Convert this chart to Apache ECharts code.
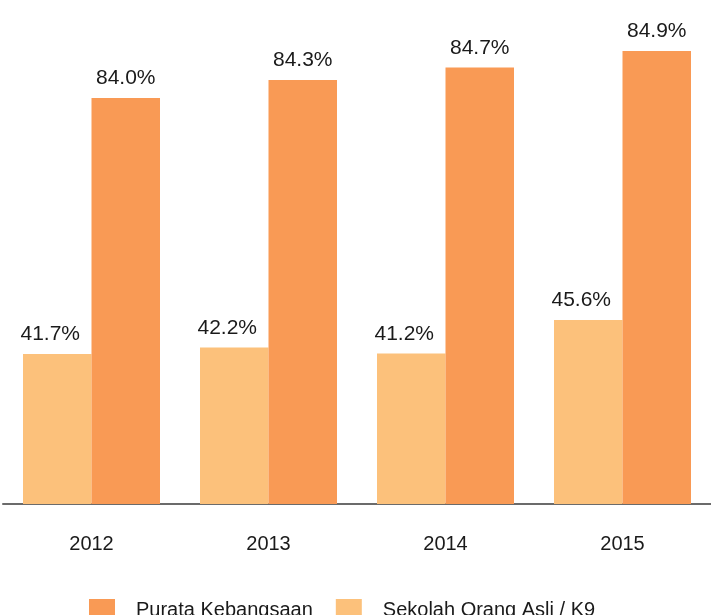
<!DOCTYPE html>
<html>
<head>
<meta charset="utf-8">
<script src="https://cdn.jsdelivr.net/npm/echarts@6/dist/echarts.min.js"></script>
<style>
  html, body { margin: 0; padding: 0; background: #fff; }
  #chart { width: 711px; height: 615px; }
</style>
</head>
<body>
<div id="chart"></div>
<script>
  // categories
  var years = ['2012', '2013', '2014', '2015'];
  // bar heights as drawn in the picture (hidden 0-100 scale)
  var kebangsaanBars = [81.2, 84.8, 87.3, 90.6];
  var orangAsliBars = [30.0, 31.3, 30.1, 36.8];
  // printed percentages above the bars
  var kebangsaanLabels = ['84.0%', '84.3%', '84.7%', '84.9%'];
  var orangAsliLabels = ['41.7%', '42.2%', '41.2%', '45.6%'];

  var font = '"Liberation Sans", Arial, Helvetica, sans-serif';

  function labelled(values, labels) {
    return values.map(function (v, i) {
      return { value: v, label: { formatter: labels[i] } };
    });
  }

  var myChart = echarts.init(document.getElementById('chart'));
  var option = {
    backgroundColor: '#fff',
    animation: false,
    grid: { left: 3, right: 0, top: 4, bottom: 111 },
    legend: {
      data: ['Purata Kebangsaan', 'Sekolah Orang Asli / K9'],
      left: 84,
      top: 594,
      itemWidth: 26,
      itemHeight: 22,
      itemGap: 23,
      icon: 'rect',
      textStyle: {
        fontFamily: font,
        fontSize: 20,
        color: '#1a1a1a',
        padding: [0, 0, 0, 16]
      }
    },
    xAxis: {
      type: 'category',
      data: years,
      axisTick: { show: false },
      axisLine: { lineStyle: { color: '#6b6b6b', width: 2 } },
      axisLabel: {
        margin: 30,
        fontFamily: font,
        fontSize: 20,
        color: '#1a1a1a'
      }
    },
    yAxis: {
      type: 'value',
      min: 0,
      max: 100,
      show: false,
      splitLine: { show: false }
    },
    series: [
      {
        name: 'Sekolah Orang Asli / K9',
        type: 'bar',
        barGap: '0%',
        barCategoryGap: '22.6%',
        itemStyle: { color: '#FCC17B' },
        label: {
          show: true,
          position: 'top',
          distance: 9,
          offset: [-7, 0],
          fontFamily: font,
          fontSize: 21,
          color: '#1a1a1a'
        },
        data: labelled(orangAsliBars, orangAsliLabels)
      },
      {
        name: 'Purata Kebangsaan',
        type: 'bar',
        barGap: '0%',
        barCategoryGap: '22.6%',
        itemStyle: { color: '#F99A55' },
        label: {
          show: true,
          position: 'top',
          distance: 9,
          fontFamily: font,
          fontSize: 21,
          color: '#1a1a1a'
        },
        data: labelled(kebangsaanBars, kebangsaanLabels)
      }
    ]
  };
  myChart.setOption(option);
</script>
</body>
</html>
